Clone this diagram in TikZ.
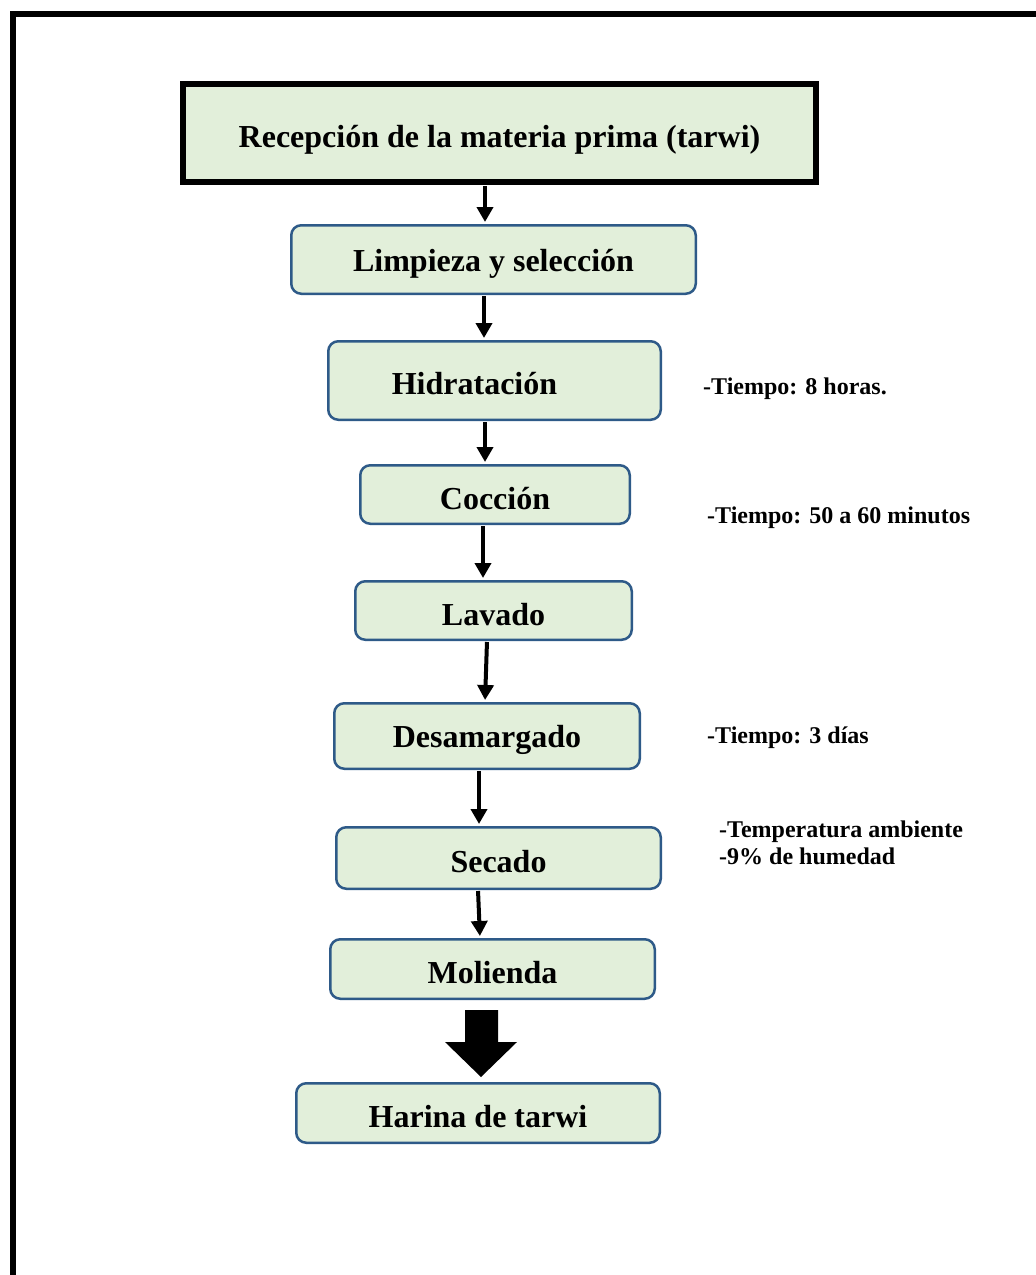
\documentclass[tikz,border=0pt]{standalone}
\usepackage{fontspec}
\setmainfont{Liberation Serif}
\usetikzlibrary{arrows.meta}
\definecolor{boxfill}{HTML}{E2EFDA}
\definecolor{boxline}{HTML}{2E5A88}
\newcommand{\lowtxt}[2][4pt]{\raisebox{-#1}[\height][\depth]{#2}}
\tikzset{
  stage/.style={draw=boxline, line width=2.5pt, fill=boxfill, rounded corners=10pt,
    inner sep=0pt, font=\fontsize{32}{38}\selectfont\bfseries},
  topstage/.style={draw=black, line width=6pt, fill=boxfill, inner sep=0pt,
    font=\fontsize{32}{38}\selectfont\bfseries},
  note/.style={anchor=base west, inner sep=0pt, font=\fontsize{24}{28}\selectfont\bfseries},
  arr/.style={line width=4pt, -{Triangle[width=16pt,length=15pt]}, shorten <=1pt, shorten >=2pt},
}
\begin{document}
\begin{tikzpicture}[x=1pt,y=-1pt]
\useasboundingbox (0,0) rectangle (1036,1275);
\clip (0,0) rectangle (1036,1275);
\fill[white] (0,0) rectangle (1036,1275);
% outer frame (extends past the page on right and bottom)
\draw[line width=6pt] (13,14) rectangle (1200,1400);

\node[topstage, minimum width=633pt, minimum height=98pt] (recep) at (499.5,133) {\lowtxt[6.5pt]{Recepción de la materia prima (tarwi)}};
\node[stage, minimum width=404.5pt, minimum height=68.5pt] (limp) at (493.5,259.5) {\lowtxt{Limpieza y selección}};
\node[stage, minimum width=332.5pt, minimum height=78.5pt] (hidr) at (494.5,380.5) {\lowtxt[3pt]{Hidratación}\hspace*{40pt}};
\node[stage, minimum width=269.5pt, minimum height=58.5pt] (cocc) at (495,494.5) {\lowtxt{Cocción}};
\node[stage, minimum width=276.5pt, minimum height=58.5pt] (lav) at (493.5,610.5) {\lowtxt{Lavado}};
\node[stage, minimum width=305.5pt, minimum height=65.5pt] (desa) at (487,736) {\lowtxt{Desamargado}};
\node[stage, minimum width=324.5pt, minimum height=61.5pt] (sec) at (498.5,858) {\lowtxt{Secado}};
\node[stage, minimum width=324.5pt, minimum height=59.5pt] (mol) at (492.5,969) {\lowtxt{Molienda}};
\node[stage, minimum width=363.5pt, minimum height=59.5pt] (har) at (478,1113) {\lowtxt{Harina de tarwi}};

\node[note] (n1) at (703,394) {-Tiempo: 8 horas.};
\node[note] (n2) at (707,523) {-Tiempo: 50 a 60 minutos};
\node[note] (n3) at (707,743) {-Tiempo: 3 días};
\node[note] (n4) at (719,837) {-Temperatura ambiente};
\node[note] (n5) at (719,864) {-9\% de humedad};

\draw[arr] ([xshift=-14.5pt]recep.south) -- ([xshift=-8.5pt]limp.north);
\draw[arr] ([xshift=-9.5pt]limp.south) -- ([xshift=-10.5pt]hidr.north);
\draw[arr] ([xshift=-9.5pt]hidr.south) -- ([xshift=-10pt]cocc.north);
\draw[arr] ([xshift=-12pt]cocc.south) -- ([xshift=-10.5pt]lav.north);
\draw[arr] ([xshift=-6.5pt]lav.south) -- ([xshift=-2pt]desa.north);
\draw[arr] ([xshift=-8pt]desa.south) -- ([xshift=-19.5pt]sec.north);
\draw[arr] ([xshift=-20.5pt]sec.south) -- ([xshift=-12.5pt]mol.north);

% big block arrow Molienda -> Harina
\fill ([xshift=-27.5pt,yshift=-10pt]mol.south) -- ++(33,0) -- ++(0,32) -- ++(19,0)
  -- ++(-36,35) -- ++(-36,-35) -- ++(20,0) -- cycle;
\end{tikzpicture}
\end{document}
